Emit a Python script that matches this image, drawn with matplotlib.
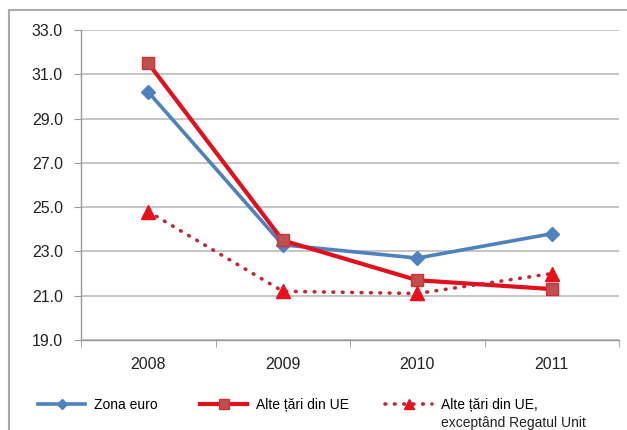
import matplotlib.pyplot as plt
from matplotlib.lines import Line2D

plt.rcParams['font.family'] = ['Liberation Sans', 'DejaVu Sans']

# date
ani = ['2008', '2009', '2010', '2011']
zona_euro = [30.2, 23.3, 22.7, 23.8]
alte_ue = [31.5, 23.5, 21.7, 21.3]
alte_ue_fara_ru = [24.8, 21.2, 21.1, 22.0]
y_ticks = [19.0, 21.0, 23.0, 25.0, 27.0, 29.0, 31.0, 33.0]

fig = plt.figure(figsize=(6.27, 4.30), dpi=100)
ax = fig.add_axes([81 / 627, 1 - 340 / 430, 538 / 627, 310 / 430])

x = list(range(len(ani)))

ax.plot(x, zona_euro, color='#4F81BD', lw=2.6, marker='D', ms=7,
        mfc='#4F81BD', mec='#4F81BD', label='Zona euro', zorder=3)
ax.plot(x, alte_ue, color='#E0101E', lw=3.0, marker='s', ms=9,
        mfc='#C0504D', mec='#D0303A', label='Alte țări din UE', zorder=4)
ax.plot(x, alte_ue_fara_ru, color='#C0283A', lw=2.6, ls=(0, (0.2, 2.4)),
        dash_capstyle='round', marker='^', ms=10, mfc='#E8101A', mec='#E8101A',
        label='Alte țări din UE,', zorder=5)

ax.set_xlim(-0.5, len(ani) - 0.5)
ax.set_ylim(19.0, 33.0)
ax.set_yticks(y_ticks)
ax.set_yticklabels([f'{v:.1f}' for v in y_ticks])
ax.set_xticks(x)
ax.set_xticklabels(ani)
ax.set_xticks([i - 0.5 for i in range(len(ani) + 1)], minor=True)

ax.tick_params(axis='x', which='major', length=0, pad=12, labelsize=11.5, colors='#222222')
ax.tick_params(axis='x', which='minor', length=5, direction='out', color='#999999')
ax.tick_params(axis='y', length=5, direction='out', color='#999999', pad=8,
               labelsize=11.5, labelcolor='#222222')

ax.grid(axis='y', color='#BBBBBB', lw=1.2)
ax.set_axisbelow(True)
for s in ['top', 'right']:
    ax.spines[s].set_visible(False)
for s in ['left', 'bottom']:
    ax.spines[s].set_color('#999999')
    ax.spines[s].set_linewidth(1.0)

# chenar gri in jurul figurii
fig.add_artist(Line2D([9 / 627, 9 / 627], [0, 1 - 10 / 430], color='#AAAAAA', lw=1.5))
fig.add_artist(Line2D([9 / 627, 1], [1 - 10 / 430, 1 - 10 / 430], color='#AAAAAA', lw=1.5))

# legenda, cate o intrare separat
handles, labels = ax.get_legend_handles_labels()
leg_x = [38 / 627, 200 / 627, 385 / 627]
leg_y = 1 - 405 / 430
legends = []
for h, l, lx in zip(handles, labels, leg_x):
    lg = fig.legend([h], [l], loc='center left', bbox_to_anchor=(lx, leg_y),
                    frameon=False, borderpad=0, borderaxespad=0,
                    handlelength=3.4, handletextpad=0.6, fontsize=10,
                    markerscale=0.75)
    legends.append(lg)

fig.canvas.draw()
bb = legends[2].get_texts()[0].get_window_extent()
fig.text(bb.x0 / fig.bbox.width, (bb.y0 - 4) / fig.bbox.height,
         'exceptând Regatul Unit', fontsize=10, va='top', ha='left', color='#222222')

fig.savefig('out.png', dpi=100)
